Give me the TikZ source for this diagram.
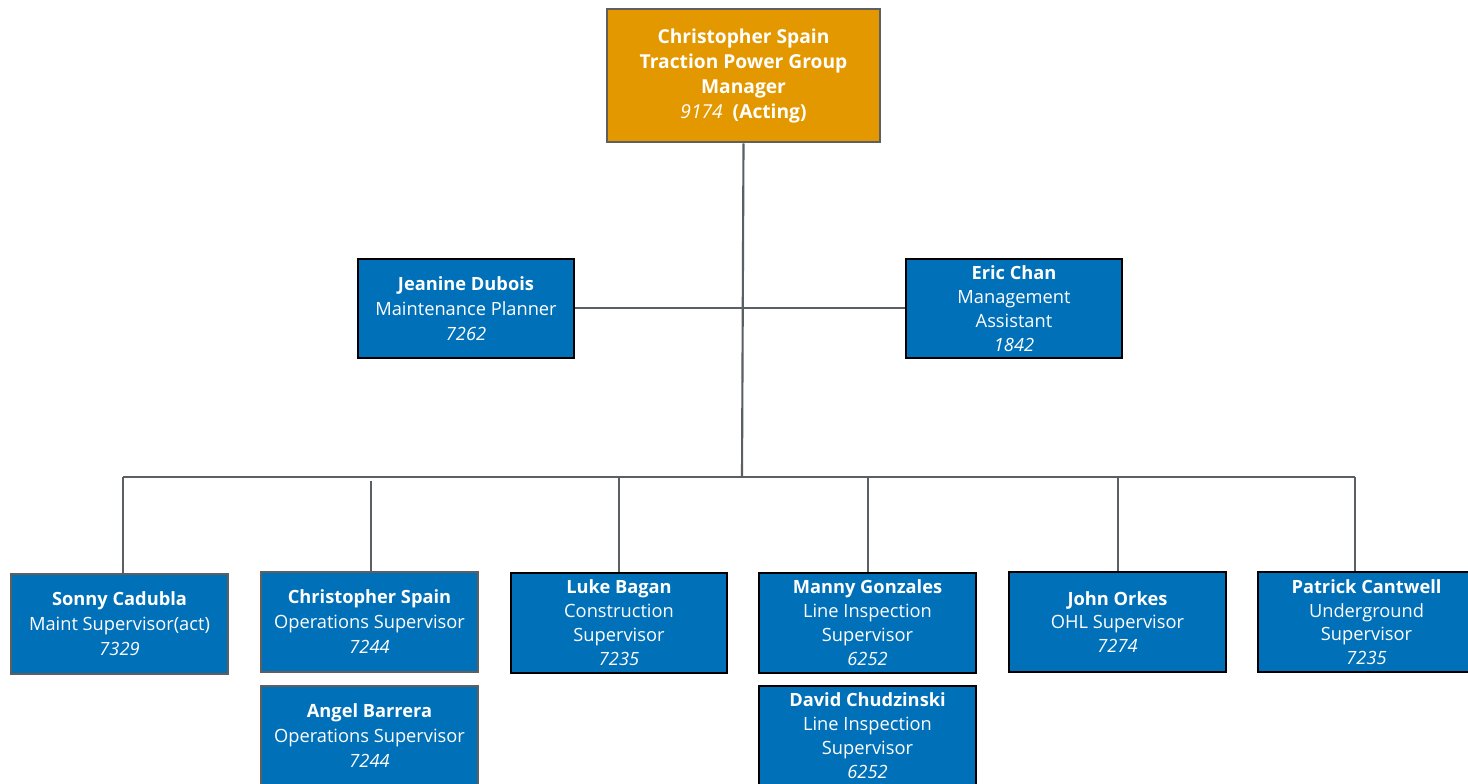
\documentclass[tikz,border=0pt]{standalone}
\usepackage{fontspec}
\setmainfont{Open Sans}
\definecolor{orgbox}{RGB}{227,152,0}
\definecolor{bluebox}{RGB}{0,112,185}
\definecolor{linegray}{RGB}{90,95,99}
\definecolor{edgegray}{RGB}{95,95,95}
\tikzset{
  person/.style={rectangle, fill=bluebox, draw=black, line width=1.5pt, text=white,
    align=center, inner sep=0pt, minimum width=162.5pt, minimum height=74.5pt,
    font=\fontsize{13.7}{18}\selectfont},
  threeline/.style={font=\fontsize{13.7}{18.75}\selectfont},
  persongray/.style={person, draw=edgegray},
  conn/.style={draw=linegray, line width=1.6pt}
}
\begin{document}
\begin{tikzpicture}[x=0.75pt,y=-0.75pt]
\useasboundingbox (0,0) rectangle (1468,784);
\fill[white] (0,0) rectangle (1468,784);
\node[persongray, fill=orgbox, minimum width=204.75pt, minimum height=99.75pt, font=\fontsize{14.4}{18.75}\selectfont] (top) at (743.5,76)
  {\textbf{Christopher Spain}\\ \textbf{Traction Power Group}\\ \textbf{Manager}\\ \textit{9174}\ \ \textbf{(Acting)}};
\node[person, threeline] (jeanine) at (466,308.5) {\textbf{Jeanine Dubois}\\ Maintenance Planner\\ \textit{7262}};
\node[person] (eric) at (1014,308.5) {\textbf{Eric Chan}\\ Management\\ Assistant\\ \textit{1842}};
\node[persongray, threeline] (sonny) at (119.5,624) {\textbf{Sonny Cadubla}\\ Maint Supervisor(act)\\ \textit{7329}};
\node[persongray, threeline] (chris) at (369.5,622) {\textbf{Christopher Spain}\\ Operations Supervisor\\ \textit{7244}};
\node[persongray, threeline] (angel) at (369.5,736) {\textbf{Angel Barrera}\\ Operations Supervisor\\ \textit{7244}};
\node[person] (luke) at (619,623) {\textbf{Luke Bagan}\\ Construction\\ Supervisor\\ \textit{7235}};
\node[person] (manny) at (867.5,623) {\textbf{Manny Gonzales}\\ Line Inspection\\ Supervisor\\ \textit{6252}};
\node[person] (david) at (867.5,736) {\textbf{David Chudzinski}\\ Line Inspection\\ Supervisor\\ \textit{6252}};
\node[person, font=\fontsize{13.7}{17.5}\selectfont] (john) at (1117.5,622) {\textbf{John Orkes}\\ OHL Supervisor\\ \textit{7274}};
\node[person, font=\fontsize{13.7}{17.7}\selectfont] (patrick) at (1366.5,622) {\textbf{Patrick Cantwell}\\ Underground\\ Supervisor\\ \textit{7235}};
% connector points
\coordinate (hub) at (742,477);
\coordinate (busL) at (123,477);
\coordinate (busR) at (1355,477);
\coordinate (chrisTop) at (371,481);
\coordinate (lukeBus) at (619,477);
\coordinate (mannyBus) at (868,477);
\coordinate (johnBus) at (1118,477);
\coordinate (midL) at (574,308);
\coordinate (midR) at (906,308);
% connectors
\draw[conn] (top.south) -- (hub);
\draw[conn] (jeanine.east |- midL) -- (eric.west |- midR);
\draw[conn] (busL) -- (busR);
\draw[conn] (busL) -- (busL |- sonny.north);
\draw[conn] (chrisTop) -- (chrisTop |- chris.north);
\draw[conn] (lukeBus) -- (lukeBus |- luke.north);
\draw[conn] (mannyBus) -- (mannyBus |- manny.north);
\draw[conn] (johnBus) -- (johnBus |- john.north);
\draw[conn] (busR) -- (busR |- patrick.north);
\end{tikzpicture}
\end{document}
